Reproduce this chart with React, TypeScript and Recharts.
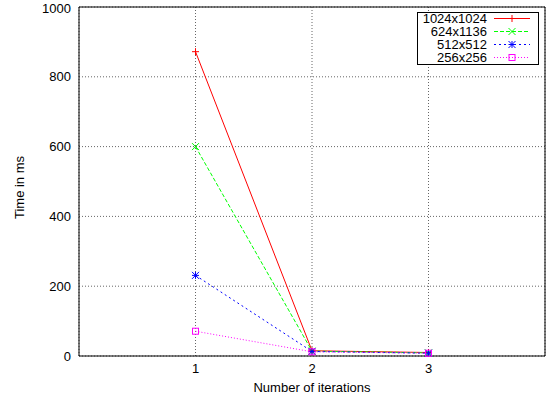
import { LineChart, Line, XAxis, YAxis, CartesianGrid, Legend, ReferenceArea, Label } from 'recharts';

const iterations = [1, 2, 3];
const res1024 = [872, 15, 10];
const res624 = [600, 14, 9];
const res512 = [231, 13, 8];
const res256 = [71, 12, 8];
const xTicks = [1, 2, 3];
const yTicks = [0, 200, 400, 600, 800, 1000];

const data = iterations.map((it, i) => ({
  it,
  r1024: res1024[i],
  r624: res624[i],
  r512: res512[i],
  r256: res256[i],
}));

const FONT = '"Liberation Sans", Arial, sans-serif';

const series = [
  { key: 'r1024', name: '1024x1024', color: '#ff0000', dash: undefined, shape: 'plus' },
  { key: 'r624', name: '624x1136', color: '#00ff00', dash: '4 2', shape: 'cross' },
  { key: 'r512', name: '512x512', color: '#0000ff', dash: '2 3', shape: 'star' },
  { key: 'r256', name: '256x256', color: '#ff00ff', dash: '1 2', shape: 'square' },
];

function Marker({ cx, cy, shape, color }: { cx: number; cy: number; shape: string; color: string }) {
  const s = 3.5;
  const plus = (
    <>
      <line x1={cx - s} y1={cy} x2={cx + s} y2={cy} stroke={color} />
      <line x1={cx} y1={cy - s} x2={cx} y2={cy + s} stroke={color} />
    </>
  );
  const cross = (
    <>
      <line x1={cx - s} y1={cy - s} x2={cx + s} y2={cy + s} stroke={color} />
      <line x1={cx - s} y1={cy + s} x2={cx + s} y2={cy - s} stroke={color} />
    </>
  );
  if (shape === 'plus') return <g>{plus}</g>;
  if (shape === 'cross') return <g>{cross}</g>;
  if (shape === 'star') return <g>{plus}{cross}</g>;
  return <rect x={cx - 3} y={cy - 3} width={6} height={6} fill="none" stroke={color} />;
}

function LegendBox() {
  return (
    <svg width={122} height={53} style={{ display: 'block' }}>
      <rect x={0.5} y={0.5} width={121} height={52} fill="#fff" stroke="#000" />
      {series.map((s, i) => {
        const y = 6.5 + i * 13;
        return (
          <g key={s.key}>
            <text x={70} y={y + 4.5} textAnchor="end" fontSize={13} fontFamily={FONT} fill="#000">
              {s.name}
            </text>
            <line x1={77} y1={y} x2={113} y2={y} stroke={s.color} strokeDasharray={s.dash} />
            <Marker cx={95} cy={y} shape={s.shape} color={s.color} />
          </g>
        );
      })}
    </svg>
  );
}

export default function App() {
  return (
    <div style={{ position: 'absolute', left: 0, top: 0, background: '#fff' }}>
      <LineChart width={559} height={402} data={data} margin={{ top: 7, right: 14, bottom: 0, left: 0 }}>
        <CartesianGrid stroke="#666" strokeDasharray="1 2" />
        <XAxis
          dataKey="it"
          type="number"
          domain={[0, 4]}
          ticks={xTicks}
          height={46}
          tickLine={false}
          tickSize={6}
          tickMargin={2}
          axisLine={false}
          tick={{ fill: '#000', fontSize: 13, fontFamily: FONT }}
        >
          <Label
            content={({ viewBox }: any) => (
              <text x={viewBox.x + viewBox.width / 2} y={viewBox.y + 36} textAnchor="middle" fontSize={13} fontFamily={FONT} fill="#000">
                Number of iterations
              </text>
            )}
          />
        </XAxis>
        <YAxis
          domain={[0, 1000]}
          ticks={yTicks}
          width={79}
          tickLine={false}
          tickSize={6}
          tickMargin={2}
          axisLine={false}
          tick={{ fill: '#000', fontSize: 13, fontFamily: FONT }}
        >
          <Label
            content={({ viewBox }: any) => {
              const x = 19;
              const y = viewBox.y + viewBox.height / 2 + 6;
              return (
                <text x={x} y={y} transform={`rotate(-90 ${x} ${y})`} textAnchor="middle" dominantBaseline="central" fontSize={13} fontFamily={FONT} fill="#000">
                  Time in ms
                </text>
              );
            }}
          />
        </YAxis>
        <ReferenceArea x1={0} x2={4} y1={0} y2={1000} fill="none" stroke="#000" strokeWidth={1} ifOverflow="visible" />
        {series.map((s) => (
          <Line
            key={s.key}
            dataKey={s.key}
            name={s.name}
            type="linear"
            stroke={s.color}
            strokeWidth={1}
            strokeDasharray={s.dash}
            isAnimationActive={false}
            dot={(p: any) => <Marker key={`${s.key}-${p.index}`} cx={p.cx} cy={p.cy} shape={s.shape} color={s.color} />}
            activeDot={false}
          />
        ))}
        <Legend
          layout="horizontal"
          verticalAlign="middle"
          align="center"
          wrapperStyle={{ top: 12, left: 417, width: 122, height: 53 }}
          content={() => <LegendBox />}
        />
      </LineChart>
    </div>
  );
}
